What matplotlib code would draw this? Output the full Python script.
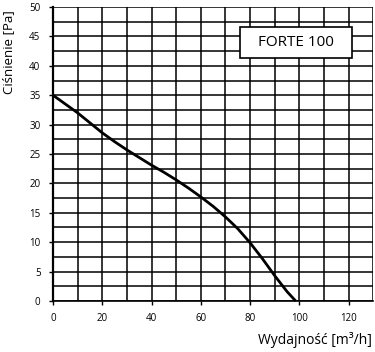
import numpy as np
import matplotlib.pyplot as plt
from matplotlib.patches import Rectangle
from matplotlib.ticker import MultipleLocator

# fan curve
flow = [0, 5, 10, 15, 20, 25, 30, 35, 40, 45, 50, 55, 60, 65, 70, 75, 80, 85, 90, 95, 98.5]
pressure = [35, 33.5, 32, 30.3, 28.6, 27.1, 25.7, 24.4, 23.1, 21.9, 20.6, 19.2, 17.7, 16.1, 14.3, 12.3, 9.9, 7.2, 4.3, 1.6, 0]

x_ticks = [0, 20, 40, 60, 80, 100, 120]
y_ticks = [0, 5, 10, 15, 20, 25, 30, 35, 40, 45, 50]
model = "FORTE 100"

plt.rcParams['font.family'] = ['Open Sans', 'DejaVu Sans']

fig = plt.figure(figsize=(3.75, 3.52), dpi=100)
ax = fig.add_axes([0.1413, 0.145, 0.854, 0.835])

ax.set_xlim(0, 130)
ax.set_ylim(0, 50)
ax.set_xticks(x_ticks)
ax.set_yticks(y_ticks)
ax.xaxis.set_minor_locator(MultipleLocator(10))
ax.yaxis.set_minor_locator(MultipleLocator(2.5))
ax.tick_params(which='minor', length=0)
ax.tick_params(which='major', length=3, width=1, labelsize=7, pad=6)

ax.grid(True, which='both', color='black', linewidth=1.1)
ax.set_axisbelow(True)

for side in ['top', 'right']:
    ax.spines[side].set_visible(False)
ax.spines['left'].set_linewidth(1.6)
ax.spines['bottom'].set_linewidth(1.2)

ax.plot(flow, pressure, color='black', linewidth=2, solid_capstyle='butt', clip_on=False)

# label box
ax.add_patch(Rectangle((76, 41.3), 45.5, 5.3, facecolor='white', edgecolor='black',
                       linewidth=1.2, zorder=3))
ax.text(98.7, 44.0, model, ha='center', va='center', fontsize=11, zorder=4)

fig.text(0.022, 0.852, "Ciśnienie [Pa]", rotation=90, ha='center', va='center', fontsize=9.5)
fig.text(0.993, 0.035, "Wydajność [m³/h]", ha='right', va='center', fontsize=10)

fig.savefig("out.png", dpi=100)
